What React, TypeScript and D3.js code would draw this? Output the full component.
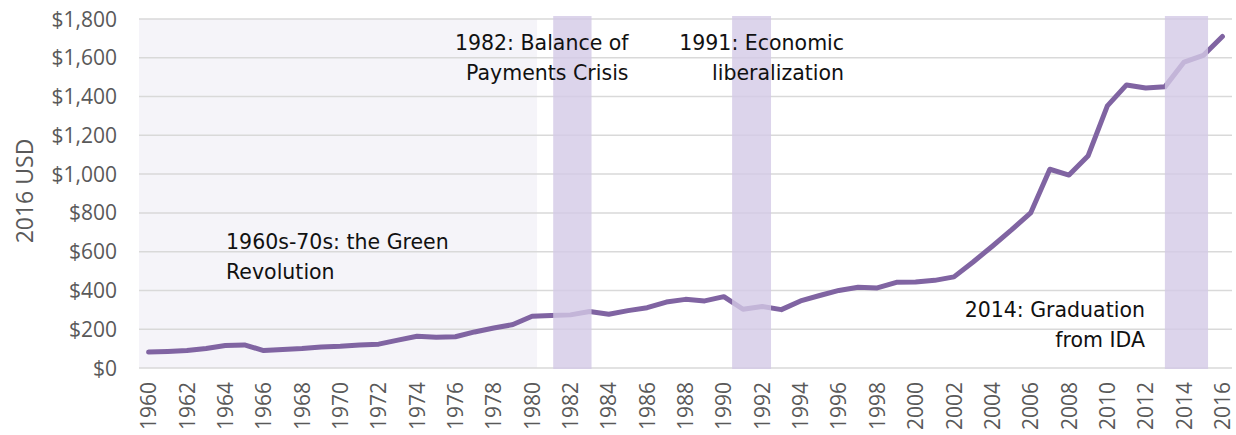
import React from "react";
import * as d3 from "d3";

const years: number[] = d3.range(1960, 2017);
const gdpPerCapita: number[] = [
  82, 85, 90, 101, 116, 119, 90, 96, 100, 108,
  112, 119, 123, 144, 164, 158, 161, 186, 206, 224,
  267, 271, 274, 291, 277, 296, 311, 340, 354, 346,
  368, 303, 317, 301, 346, 374, 400, 416, 413, 442,
  443, 452, 470, 547, 628, 712, 800, 1025, 995, 1095,
  1352, 1460, 1444, 1450, 1578, 1612, 1710,
];
const yTicks: number[] = [0, 200, 400, 600, 800, 1000, 1200, 1400, 1600, 1800];
const xTickYears: number[] = years.filter((y) => y % 2 === 0);

// Highlighted eras (in year units)
const eraStart: number[] = [1959.5];
const eraEnd: number[] = [1980.26];
const eventStart: number[] = [1981.1, 1990.43, 2013.0];
const eventEnd: number[] = [1983.1, 1992.46, 2015.25];

const annoLines: string[][] = [
  ["1960s-70s: the Green", "Revolution"],
  ["1982: Balance of", "Payments Crisis"],
  ["1991: Economic", "liberalization"],
  ["2014: Graduation", "from IDA"],
];
const annoYear: number[] = [1964.04, 1985.03, 1996.27, 2011.96];
const annoValue: number[] = [614, 1640, 1640, 263];
const annoAnchor: string[] = ["start", "end", "end", "end"];

const W = 1236;
const H = 435;
const plotLeft = 139;
const plotRight = 1232;
const plotTop = 19;
const plotBottom = 368;

export default function App() {
  const x = d3.scalePoint<number>().domain(years).range([plotLeft, plotRight]).padding(0.5);
  const step = x.step();
  const xYear = (yr: number) => (x(1960) as number) + (yr - 1960) * step;
  const y = d3.scaleLinear().domain([0, 1800]).range([plotBottom, plotTop]);
  const fmt = d3.format(",");
  const line = d3
    .line<number>()
    .x((_, i) => x(years[i]) as number)
    .y((d) => y(d));

  const axisFont = "'Open Sans', 'Noto Sans', sans-serif";
  const annoFont = "'DejaVu Sans', sans-serif";

  return (
    <svg
      width={W}
      height={H}
      style={{ position: "absolute", left: 0, top: 0, background: "#fff" }}
    >
      <rect x={0} y={0} width={W} height={H} fill="#fff" />
      {eraStart.map((s, i) => (
        <rect
          key={"era" + i}
          x={plotLeft}
          y={plotTop}
          width={xYear(eraEnd[i]) - plotLeft}
          height={plotBottom - plotTop}
          fill="#f5f4f9"
        />
      ))}
      {yTicks.map((t) => (
        <line
          key={"g" + t}
          x1={plotLeft}
          x2={plotRight}
          y1={y(t)}
          y2={y(t)}
          stroke="#d9d9d9"
          strokeWidth={1.5}
        />
      ))}
      {yTicks.map((t) => (
        <text
          key={"yl" + t}
          x={117}
          y={y(t)}
          dy="0.36em"
          textAnchor="end"
          fontFamily={axisFont}
          fontSize={21}
          fill="#595959"
        >
          {"$" + fmt(t)}
        </text>
      ))}
      <text
        transform={`translate(33,191) rotate(-90)`}
        textAnchor="middle"
        fontFamily={axisFont}
        fontSize={23}
        fill="#595959"
      >
        2016 USD
      </text>
      {xTickYears.map((yr) => (
        <text
          key={"xl" + yr}
          transform={`translate(${x(yr)},382) rotate(-90)`}
          dy="0.36em"
          textAnchor="end"
          fontFamily={axisFont}
          fontSize={21}
          fill="#595959"
        >
          {yr}
        </text>
      ))}
      <path
        d={line(gdpPerCapita) || ""}
        fill="none"
        stroke="#8064a2"
        strokeWidth={5}
        strokeLinejoin="round"
        strokeLinecap="round"
      />
      {eventStart.map((s, i) => (
        <rect
          key={"ev" + i}
          x={xYear(s)}
          y={16}
          width={xYear(eventEnd[i]) - xYear(s)}
          height={369 - 16}
          fill="rgb(211,201,230)"
          fillOpacity={0.8}
        />
      ))}
      {annoLines.map((lines, i) => (
        <text
          key={"an" + i}
          x={xYear(annoYear[i])}
          y={y(annoValue[i])}
          textAnchor={annoAnchor[i] as any}
          fontFamily={annoFont}
          fontSize={20.5}
          fill="#111"
        >
          {lines.map((l, j) => (
            <tspan key={j} x={xYear(annoYear[i])} dy={j === 0 ? 0 : 30}>
              {l}
            </tspan>
          ))}
        </text>
      ))}
    </svg>
  );
}
